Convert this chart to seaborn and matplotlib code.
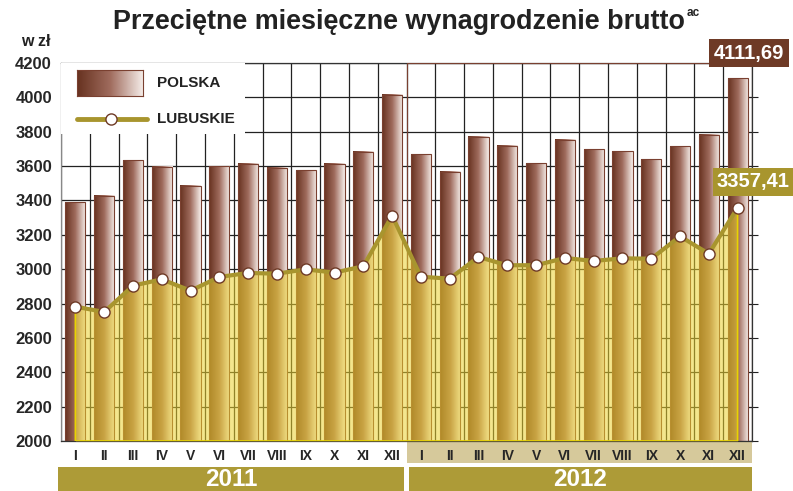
import numpy as np
import pandas as pd
import seaborn as sns
import matplotlib.pyplot as plt
from matplotlib import font_manager
from matplotlib.colors import LinearSegmentedColormap
from matplotlib.patches import Rectangle
from matplotlib.lines import Line2D

months = ["I", "II", "III", "IV", "V", "VI", "VII", "VIII", "IX", "X", "XI", "XII"]
years = ["2011", "2012"]

polska_2011 = [3389.37, 3426.03, 3634.28, 3597.33, 3484.70, 3600.31,
               3612.63, 3589.61, 3577.04, 3612.97, 3683.56, 4015.14]
polska_2012 = [3668.52, 3567.27, 3771.48, 3717.49, 3616.05, 3753.51,
               3697.98, 3686.88, 3641.06, 3716.83, 3781.49, 4111.69]
lubuskie_2011 = [2782, 2751, 2904, 2941, 2875, 2955, 2978, 2974, 2999, 2980, 3017, 3311]
lubuskie_2012 = [2956, 2945, 3071, 3023, 3023, 3065, 3048, 3063, 3061, 3191, 3090, 3357.41]

df = pd.DataFrame({
    "okres": [f"{m}.{y}" for y in years for m in months],
    "miesiac": months * 2,
    "polska": polska_2011 + polska_2012,
    "lubuskie": lubuskie_2011 + lubuskie_2012,
})

sns.set_style("white")
names = {f.name for f in font_manager.fontManager.ttflist}
narrow = "Liberation Sans Narrow" if "Liberation Sans Narrow" in names else "Liberation Sans"
plt.rcParams["font.family"] = ["Liberation Sans", "DejaVu Sans"]

BROWN = "#6e3a26"
OLIVE = "#a8952e"
TAN = "#d6c99b"
YEAR_BG = "#ad9b37"

fig = plt.figure(figsize=(7.93, 4.91), dpi=100)
ax = fig.add_axes([61 / 793, 1 - 441 / 491, 691 / 793, 378 / 491])

n = len(df)
ax.axvspan(11.5, n - 0.5, color=TAN, zorder=0, lw=0)

# bars
sns.barplot(data=df, x="okres", y="polska", color=BROWN, width=0.7, ax=ax, zorder=2)
bar_cmap = LinearSegmentedColormap.from_list("br", ["#673220", "#a06c5e", "#f6eeea"])
grad = np.linspace(0, 1, 64).reshape(1, -1)
for p in ax.patches:
    x0, w, h = p.get_x(), p.get_width(), p.get_height()
    ax.imshow(grad, cmap=bar_cmap, extent=[x0, x0 + w, 0, h], aspect="auto",
              zorder=2, interpolation="bicubic")
    p.set_facecolor("none")
    p.set_edgecolor("#7a4030")
    p.set_linewidth(0.8)
    p.set_zorder(3)

# lubuskie area + line
xs = np.arange(n)
ax.fill_between(xs, 2000, df["lubuskie"], color="#ecd230", alpha=0.55, lw=0, zorder=4)
ax.fill_between(xs, 2000, df["lubuskie"], facecolor="none", edgecolor="#e8d400", lw=1.2, zorder=4)
sns.lineplot(x=xs, y=df["lubuskie"], ax=ax, color=OLIVE, lw=3, marker="o", markersize=8,
             markerfacecolor="white", markeredgecolor=BROWN, markeredgewidth=1, zorder=6)

ax.set_xlim(-0.5, n - 0.5)
ax.set_ylim(2000, 4200)
ax.set_yticks(np.arange(2000, 4201, 200))
ax.set_xticks(xs)
ax.set_xticklabels(df["miesiac"], fontsize=10, fontweight="bold", family=narrow)
ax.set_xticks(np.arange(-0.5, n, 1), minor=True)
ax.set_xlabel("")
ax.set_ylabel("")
ax.tick_params(axis="x", which="both", length=0, pad=6)
ax.tick_params(axis="y", left=False, right=True, length=4, direction="out", color="#222",
               pad=2.5, labelsize=12)
for t in ax.get_yticklabels():
    t.set_fontweight("bold")
ax.grid(axis="y", which="major", color="#222", lw=0.9, zorder=1)
ax.grid(axis="x", which="minor", color="#222", lw=0.9, zorder=1)
ax.grid(axis="x", which="major", visible=False)
ax.set_axisbelow(True)
for s in ax.spines.values():
    s.set_color("#333")
    s.set_linewidth(0.9)
ax.spines["left"].set_color("#888")

# band under 2012 month labels
ax.add_patch(Rectangle((11.5, -0.058), 12, 0.058, transform=ax.get_xaxis_transform(),
                       facecolor=TAN, lw=0, clip_on=False, zorder=0))
# year bands
for i, yr in enumerate(years):
    x0 = -0.6 if i == 0 else 11.57
    x1 = 11.43 if i == 0 else n - 0.5
    ax.add_patch(Rectangle((x0, -0.133), x1 - x0, 0.065, transform=ax.get_xaxis_transform(),
                           facecolor=YEAR_BG, lw=0, clip_on=False))
    ax.text((x0 + x1) / 2, -0.101, yr, transform=ax.get_xaxis_transform(), ha="center", va="center",
            color="white", fontsize=17.5, fontweight="bold", family=narrow)

# legend
def axc(px, py):
    return (px - 61) / 691, (441 - py) / 378

lx, ly = axc(61, 134)
ax.add_patch(Rectangle((lx, ly), (245 - 61) / 691, 71 / 378, transform=ax.transAxes,
                       facecolor="white", lw=0, zorder=7))
sx, sy = axc(77, 96)
sw = ax.inset_axes([sx, sy, 66 / 691, 26 / 378], zorder=8)
sw.imshow(grad, cmap=bar_cmap, aspect="auto", interpolation="bicubic")
sw.set_xticks([])
sw.set_yticks([])
for s in sw.spines.values():
    s.set_color("#7a4030")
    s.set_linewidth(0.8)
a0 = axc(77, 119)
a1 = axc(147, 119)
ax.add_line(Line2D([a0[0], a1[0]], [a0[1], a1[1]], transform=ax.transAxes, color=OLIVE,
                   lw=3.5, zorder=8))
ax.add_line(Line2D([axc(111, 119)[0]], [a0[1]], transform=ax.transAxes, marker="o",
                   markersize=8, markerfacecolor="white", markeredgecolor=BROWN, zorder=9))
for label, py in [("POLSKA", 83), ("LUBUSKIE", 119)]:
    tx, ty = axc(157, py)
    ax.text(tx, ty, label, transform=ax.transAxes, fontsize=11, fontweight="bold",
            va="center", ha="left", color="#222", zorder=9)

# value boxes
fig.text(749 / 793, 1 - 53 / 491, "4111,69", ha="center", va="center", color="white",
         fontsize=14.5, fontweight="bold",
         bbox=dict(boxstyle="square,pad=0.22", facecolor=BROWN, edgecolor="none"))
fig.text(753 / 793, 1 - 182 / 491, "3357,41", ha="center", va="center", color="white",
         fontsize=14.5, fontweight="bold",
         bbox=dict(boxstyle="square,pad=0.2", facecolor=OLIVE, edgecolor="none"))

fig.text(399 / 793, 1 - 22 / 491, "Przeciętne miesięczne wynagrodzenie brutto", ha="center",
         va="center", fontsize=19.4, fontweight="bold", color="#222")
fig.text(687 / 793, 1 - 13 / 491, "ac", ha="left", va="center", fontsize=8.5, fontweight="bold",
         color="#222")
fig.text(36 / 793, 1 - 42 / 491, "w zł", ha="center", va="center", fontsize=11.5,
         fontweight="bold", color="#222")

fig.savefig("out.png", dpi=100)
